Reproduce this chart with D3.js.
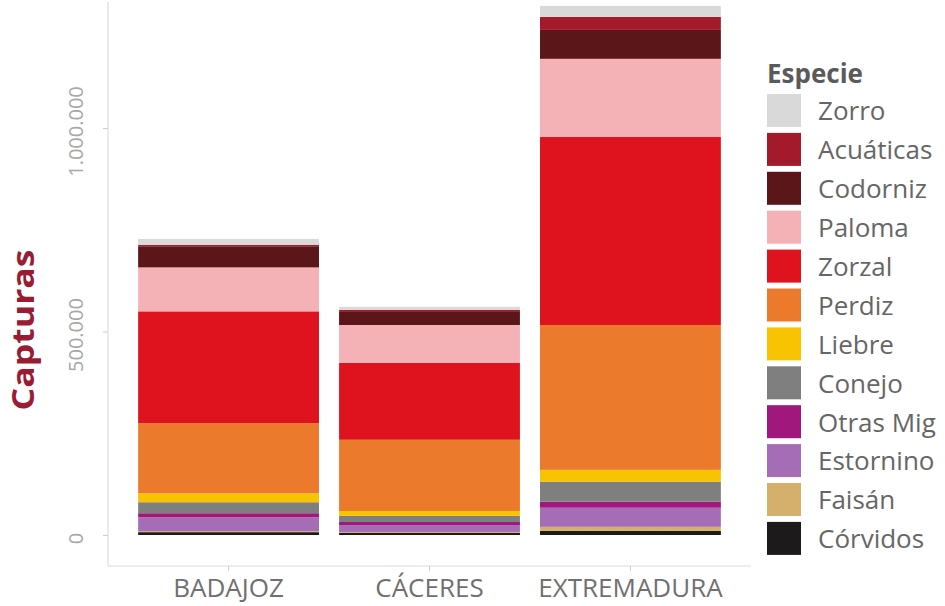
<!DOCTYPE html>
<html>
<head>
<meta charset="utf-8">
<script src="https://cdn.jsdelivr.net/npm/d3@7"></script>
<style>
  html, body { margin: 0; padding: 0; background: #ffffff; }
  svg { display: block; font-family: "Open Sans", "Noto Sans", sans-serif; }
</style>
</head>
<body>
<svg id="chart" width="945" height="606"></svg>
<script>
// ---- Data ----
const categories = ["BADAJOZ", "CÁCERES", "EXTREMADURA"];
// stacking order: bottom -> top
const species = ["Córvidos", "Faisán", "Estornino", "Otras Mig", "Conejo", "Liebre",
                 "Perdiz", "Zorzal", "Paloma", "Codorniz", "Acuáticas", "Zorro"];
const corvidos   = [7000,   5000,   10000];
const faisan     = [2500,   2500,   10000];
const estornino  = [34000,  17000,  47000];
const otrasMig   = [10000,  7500,   15000];
const conejo     = [27000,  15000,  49000];
const liebre     = [22000,  12000,  29000];
const perdiz     = [172000, 175000, 356000];
const zorzal     = [275000, 189000, 462000];
const paloma     = [108000, 93000,  192000];
const codorniz   = [52000,  32000,  71000];
const acuaticas  = [3000,   5000,   32000];
const zorro      = [15000,  7500,   27000];
const seriesValues = [corvidos, faisan, estornino, otrasMig, conejo, liebre,
                      perdiz, zorzal, paloma, codorniz, acuaticas, zorro];
const colors = ["#1c1a1a", "#d4b06c", "#a56db6", "#a1187c", "#7f7f7f", "#f8c300",
                "#eb7a2c", "#df131d", "#f4b1b6", "#5b1619", "#a21a2b", "#d9d9d9"];
const yTicks = [0, 500000, 1000000];
const legendTitle = "Especie";
const yTitle = "Capturas";

// ---- Build table for stacking ----
const table = categories.map((c, i) => {
  const row = { cat: c };
  species.forEach((s, j) => { row[s] = seriesValues[j][i]; });
  return row;
});
const stacked = d3.stack().keys(species)(table);

const svg = d3.select("#chart");
const left = 108, right = 751, bottom = 566;

const x = d3.scaleBand().domain(categories).range([left, right])
  .paddingInner(0.1).paddingOuter(0.15);
const y = d3.scaleLinear().domain([0, 1000000]).range([535, 128]);

const locale = d3.formatLocale({ decimal: ",", thousands: ".", grouping: [3], currency: ["", "€"] });
const fmt = locale.format(",d");

// panel lines
svg.append("line").attr("x1", left).attr("x2", left).attr("y1", 2).attr("y2", bottom)
  .attr("stroke", "#dcdcdc").attr("stroke-width", 1.2);
svg.append("line").attr("x1", left).attr("x2", right).attr("y1", bottom).attr("y2", bottom)
  .attr("stroke", "#dcdcdc").attr("stroke-width", 1.2);

// bars
svg.append("g").selectAll("g").data(stacked).join("g")
  .attr("fill", (d, i) => colors[i])
  .selectAll("rect").data(d => d).join("rect")
  .attr("x", d => x(d.data.cat))
  .attr("width", x.bandwidth())
  .attr("y", d => y(d[1]))
  .attr("height", d => y(d[0]) - y(d[1]));

// y axis
const yAxis = d3.axisLeft(y).tickValues(yTicks).tickFormat(fmt).tickSize(5).tickPadding(0);
const gy = svg.append("g").attr("transform", `translate(${left},0)`).call(yAxis);
gy.select(".domain").remove();
gy.selectAll(".tick line").attr("stroke", "#cfcfcf");
gy.selectAll(".tick text")
  .attr("x", 0).attr("dy", null)
  .attr("transform", "translate(-25,3) rotate(-90)")
  .attr("text-anchor", "middle")
  .attr("fill", "#a8a8a8")
  .style("font-size", "20px")
  .style("font-family", "'Open Sans', sans-serif");

// x axis
const xAxis = d3.axisBottom(x).tickSize(5).tickPadding(10);
const gx = svg.append("g").attr("transform", `translate(0,${bottom})`).call(xAxis);
gx.select(".domain").remove();
gx.selectAll(".tick line").attr("stroke", "#cfcfcf");
gx.selectAll(".tick text")
  .attr("y", 31).attr("dy", null)
  .attr("fill", "#707070")
  .style("font-size", "26px")
  .style("font-family", "'Open Sans', sans-serif");

// y title
svg.append("text")
  .attr("transform", "translate(34,330) rotate(-90) scale(1.15,1)")
  .attr("text-anchor", "middle")
  .attr("fill", "#9a1c34")
  .style("font-size", "31px")
  .style("font-weight", "bold")
  .text(yTitle);

// legend
const lg = svg.append("g");
lg.append("text").attr("x", 767).attr("y", 83)
  .attr("fill", "#5a5a5a").style("font-size", "26px").style("font-weight", "bold")
  .text(legendTitle);
const legendOrder = species.slice().reverse();
const legendColors = colors.slice().reverse();
const items = lg.selectAll("g.item").data(legendOrder).join("g")
  .attr("class", "item")
  .attr("transform", (d, i) => `translate(767,${94 + i * 38.9})`);
items.append("rect").attr("width", 34).attr("height", 33)
  .attr("fill", (d, i) => legendColors[i]);
items.append("text").attr("x", 51).attr("y", 17).attr("dy", "0.36em")
  .attr("fill", "#666666").style("font-size", "26px")
  .text(d => d);
</script>
</body>
</html>
